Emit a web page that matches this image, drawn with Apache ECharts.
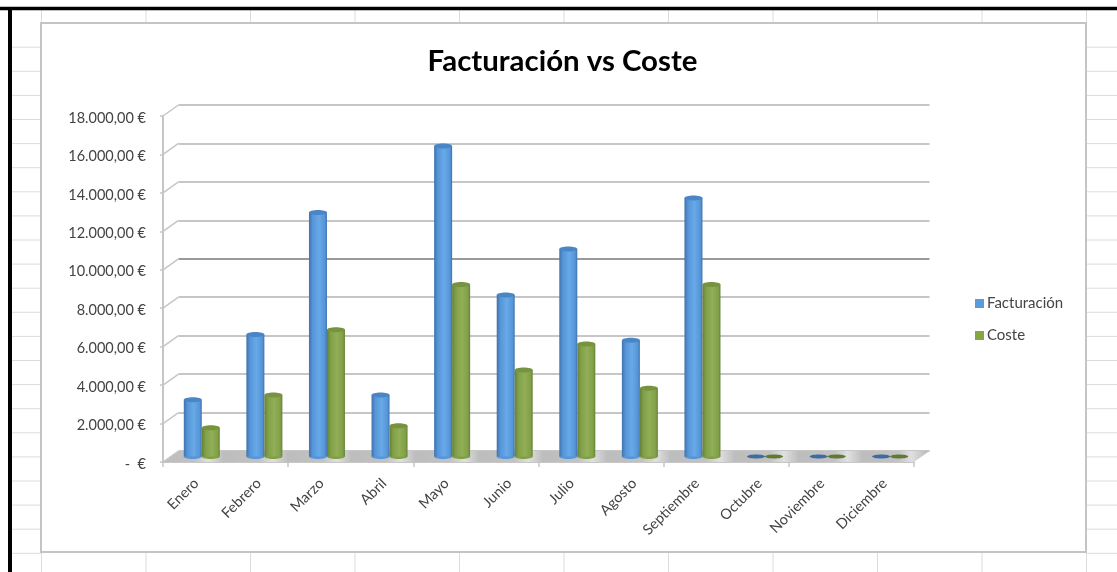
<!DOCTYPE html>
<html>
<head>
<meta charset="utf-8">
<style>html,body{margin:0;padding:0;background:#fff}#chart{width:1117px;height:572px}</style>
<script src="https://cdn.jsdelivr.net/npm/echarts@6/dist/echarts.min.js"></script>
</head>
<body>
<div id="chart"></div>
<script>
// Monthly revenue and cost, in euros
const meses = ['Enero','Febrero','Marzo','Abril','Mayo','Junio','Julio','Agosto','Septiembre','Octubre','Noviembre','Diciembre'];
const facturacion = [3000,6400,12750,3250,16200,8450,10850,6100,13500,0,0,0];
const coste = [1550,3250,6650,1650,9000,4550,5900,3600,9000,0,0,0];
const marcasEje = [0,2000,4000,6000,8000,10000,12000,14000,16000,18000];

// Pseudo-3D depth of the plot box
const FONDO_X = 15.5, FONDO_Y = -11;
const MEDIO_X = 7.5, MEDIO_Y = -5.5;
const ANCHO = 18;
const FUENTE = 'Lato, "Open Sans", sans-serif';
const GRIS = '#c6c6c6';

function euros(v) {
  if (v === 0) return '-  €';
  return String(v).replace(/\B(?=(\d{3})+$)/g, '.') + ',00 €';
}

// Spreadsheet cells behind the chart, and the window frame
const hoja = [];
const linea = (x1, y1, x2, y2, stroke, lineWidth) => ({
  type: 'line', silent: true, z: -5,
  shape: {x1, y1, x2, y2}, style: {stroke, lineWidth}
});
for (let y = 47.2; y < 572; y += 24.1) {
  hoja.push(linea(12, y, 41, y, '#dcdcdc', 1));
  hoja.push(linea(1086, y, 1117, y, '#dcdcdc', 1));
}
for (let x = 41.5; x < 1117; x += 104.5) {
  hoja.push(linea(x, 10, x, 23, '#dcdcdc', 1));
  hoja.push(linea(x, 552, x, 572, '#dcdcdc', 1));
}
hoja.push({
  type: 'rect', silent: true, z: -4,
  shape: {x: 41, y: 23, width: 1045, height: 529},
  style: {fill: '#fff', stroke: '#c4c4c4', lineWidth: 2}
});
hoja.push(linea(0, 8.5, 1117, 8.5, '#000', 3.5));
hoja.push(linea(10, 7, 10, 572, '#000', 4));

// Cylinder column standing halfway through the floor depth; lado is -1 or 0
function columna(tonos, lado) {
  return function (params, api) {
    const p = api.coord([api.value(0), api.value(1)]);
    const base = api.coord([api.value(0), 0]);
    const x = p[0] + MEDIO_X + lado * ANCHO;
    const yTop = p[1] + MEDIO_Y + 1;
    const yBase = base[1] + MEDIO_Y;
    const cx = x + ANCHO / 2;
    if (api.value(1) === 0) {
      return {type: 'ellipse', shape: {cx, cy: yBase, rx: ANCHO / 2, ry: 2}, style: {fill: tonos.plano}};
    }
    const cuerpo = new echarts.graphic.LinearGradient(0, 0, 1, 0, [
      {offset: 0, color: tonos.borde},
      {offset: 0.2, color: tonos.medio},
      {offset: 0.55, color: tonos.luz},
      {offset: 0.88, color: tonos.medio},
      {offset: 1, color: tonos.borde}
    ]);
    return {
      type: 'group',
      children: [
        {type: 'ellipse', shape: {cx, cy: yBase, rx: ANCHO / 2, ry: 2.5}, style: {fill: tonos.medio}},
        {type: 'rect', shape: {x, y: yTop, width: ANCHO, height: yBase - yTop}, style: {fill: cuerpo}},
        {type: 'ellipse', shape: {cx, cy: yTop, rx: ANCHO / 2, ry: 2.5}, style: {fill: tonos.tapa}}
      ]
    };
  };
}

// Grey floor of the plot box, with light diagonal bands
function suelo(params, api) {
  const caja = params.coordSys;
  const y0 = api.coord([0, 0])[1];
  const x0 = caja.x, x1 = caja.x + caja.width;
  const bandas = [];
  meses.forEach((m, i) => {
    const s = i / meses.length;
    const paso = 1 / meses.length;
    bandas.push({offset: s, color: '#bdbdbd'});
    bandas.push({offset: s + paso * 0.5, color: '#c2c2c2'});
    bandas.push({offset: s + paso * 0.72, color: '#e0e0e0'});
    bandas.push({offset: s + paso * 0.95, color: '#bdbdbd'});
  });
  return {
    type: 'polygon',
    shape: {points: [
      [x0, y0], [x1, y0],
      [x1 + FONDO_X, y0 + FONDO_Y], [x0 + FONDO_X, y0 + FONDO_Y]
    ]},
    style: {fill: new echarts.graphic.LinearGradient(0, 0, 1, 0, bandas)}
  };
}

// Short diagonal links from the value axis to the back wall
function enlace(params, api) {
  const x0 = params.coordSys.x;
  const y = api.coord([0, api.value(0)])[1];
  return {
    type: 'line',
    shape: {x1: x0, y1: y, x2: x0 + FONDO_X, y2: y + FONDO_Y},
    style: {stroke: GRIS, lineWidth: 1.5}
  };
}

const chart = echarts.init(document.getElementById('chart'));
chart.setOption({
  animation: false,
  backgroundColor: '#fff',
  graphic: {elements: hoja},
  title: {
    text: 'Facturación vs Coste',
    left: 557.5, top: 42, textAlign: 'center',
    textStyle: {fontFamily: FUENTE, fontSize: 29.4, fontWeight: 'bold', color: '#000'}
  },
  legend: {
    orient: 'vertical', left: 970, top: 291, itemWidth: 9, itemHeight: 9, itemGap: 17,
    icon: 'rect',
    data: ['Facturación', 'Coste'],
    textStyle: {fontFamily: FUENTE, fontSize: 15, color: '#444', padding: [0, 0, 0, -2]}
  },
  // Front plane, back wall, and a slightly offset plane that carries the axis labels
  grid: [
    {left: 163, top: 116, width: 751, height: 346},
    {left: 178.5, top: 105, width: 751, height: 346},
    {left: 165, top: 118, width: 751, height: 346}
  ],
  xAxis: [
    {
      type: 'category', gridIndex: 0, data: meses,
      axisLine: {show: true, lineStyle: {color: GRIS, width: 2}},
      axisTick: {show: true, alignWithLabel: false, length: 5, lineStyle: {color: GRIS, width: 1.5}},
      axisLabel: {show: false}
    },
    {type: 'category', gridIndex: 1, data: meses, show: false},
    {
      type: 'category', gridIndex: 2, data: meses,
      axisLine: {show: false}, axisTick: {show: false},
      axisLabel: {rotate: 45, interval: 0, margin: 17, fontFamily: FUENTE, fontSize: 14.5, color: '#444'}
    }
  ],
  yAxis: [
    {
      type: 'value', gridIndex: 0, min: 0, max: 18000, interval: 2000,
      axisLine: {show: true, lineStyle: {color: GRIS, width: 2}},
      axisTick: {show: true, length: 3, lineStyle: {color: GRIS, width: 1.5}},
      axisLabel: {show: false},
      splitLine: {show: false}
    },
    {
      type: 'value', gridIndex: 1, min: 0, max: 18000, interval: 2000,
      axisLine: {show: false}, axisTick: {show: false}, axisLabel: {show: false},
      splitLine: {show: true, lineStyle: {width: 2, color: [GRIS, GRIS, GRIS, GRIS, GRIS, '#9a9a9a', GRIS, GRIS, GRIS, GRIS]}}
    },
    {
      type: 'value', gridIndex: 2, min: 0, max: 18000, interval: 2000,
      axisLine: {show: false}, axisTick: {show: false}, splitLine: {show: false},
      axisLabel: {margin: 19, fontFamily: FUENTE, fontSize: 14.5, color: '#444', formatter: euros}
    }
  ],
  series: [
    {type: 'custom', name: 'suelo', z: 2, silent: true, clip: false, data: [[0, 0]], renderItem: suelo},
    {type: 'custom', name: 'enlaces', z: 2, silent: true, clip: false,
      encode: {y: 0}, data: marcasEje.map(v => [v]), renderItem: enlace},
    {
      type: 'custom', name: 'Facturación', z: 3, clip: false,
      itemStyle: {color: '#5b9bd9'},
      encode: {x: 0, y: 1},
      data: facturacion.map((v, i) => [i, v]),
      renderItem: columna({borde: '#3f72ab', medio: '#5595d8', luz: '#68a9e8', tapa: '#4a86c6', plano: '#3d6ca3'}, -1)
    },
    {
      type: 'custom', name: 'Coste', z: 3, clip: false,
      itemStyle: {color: '#86a544'},
      encode: {x: 0, y: 1},
      data: coste.map((v, i) => [i, v]),
      renderItem: columna({borde: '#65803a', medio: '#80a046', luz: '#92ae58', tapa: '#76943f', plano: '#5f7a33'}, 0)
    }
  ]
});
</script>
</body>
</html>
